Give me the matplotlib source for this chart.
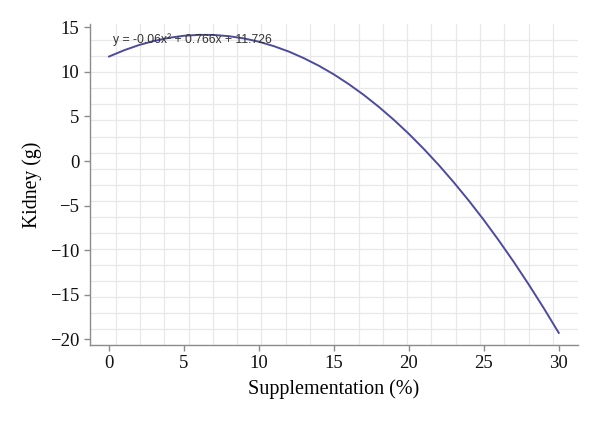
import numpy as np
import matplotlib.pyplot as plt

# supplementation level (%) and kidney weight (g)
supplementation = [0, 1, 2, 3, 4, 5, 6, 7, 8, 9, 10, 11, 12, 13, 14, 15,
                   16, 17, 18, 19, 20, 21, 22, 23, 24, 25, 26, 27, 28, 29, 30]
kidney = [11.73, 12.43, 13.02, 13.48, 13.83, 14.06, 14.16, 14.15, 14.01, 13.76,
          13.39, 12.89, 12.28, 11.54, 10.69, 9.72, 8.62, 7.41, 6.07, 4.62,
          3.05, 1.35, -0.46, -2.40, -4.45, -6.62, -8.92, -11.33, -13.87, -16.52, -19.29]
equation = 'y = -0.06x² + 0.766x + 11.726'
xticks = [0, 5, 10, 15, 20, 25, 30]
yticks = [-20, -15, -10, -5, 0, 5, 10, 15]

fig = plt.figure(figsize=(6, 4.22), dpi=100)
ax = fig.add_axes([0.15, 0.1825, 0.813, 0.76])

ax.plot(supplementation, kidney, color='#4d4b9c', lw=1.4, zorder=3)
ax.text(0.25, 13.6, equation, fontsize=8.8, color='#333333', va='center',
        family='Liberation Sans', zorder=4)

ax.set_xlim(-1.27, 31.27)
ax.set_ylim(-20.56, 15.35)
ax.set_xticks(xticks)
ax.set_yticks(yticks)

# background grid from the original export, not aligned with the ticks
ax.set_xticks(np.arange(0.45, 31, 1.62), minor=True)
ax.set_yticks(np.arange(13.55, -21, -1.8), minor=True)
ax.grid(which='minor', color='#e8e8e8', lw=0.9)
ax.grid(which='major', visible=False)
ax.tick_params(which='minor', length=0)

for s in ['top', 'right']:
    ax.spines[s].set_visible(False)
for s in ['left', 'bottom']:
    ax.spines[s].set_color('#8c8c8c')
    ax.spines[s].set_linewidth(1.0)
ax.tick_params(which='major', length=4, color='#8c8c8c', width=1.0,
               labelsize=13.5, labelcolor='#111111')
for lab in ax.get_xticklabels() + ax.get_yticklabels():
    lab.set_family('Liberation Serif')
ax.set_yticklabels(['\u221220', '\u221215', '\u221210', '\u22125', '0', '5', '10', '15'])

ax.set_xlabel('Supplementation (%)', fontsize=14.5, family='Liberation Serif', labelpad=5)
ax.set_ylabel('Kidney (g)', fontsize=14.2, family='Liberation Serif', labelpad=6)

fig.savefig('out.png', dpi=100)
